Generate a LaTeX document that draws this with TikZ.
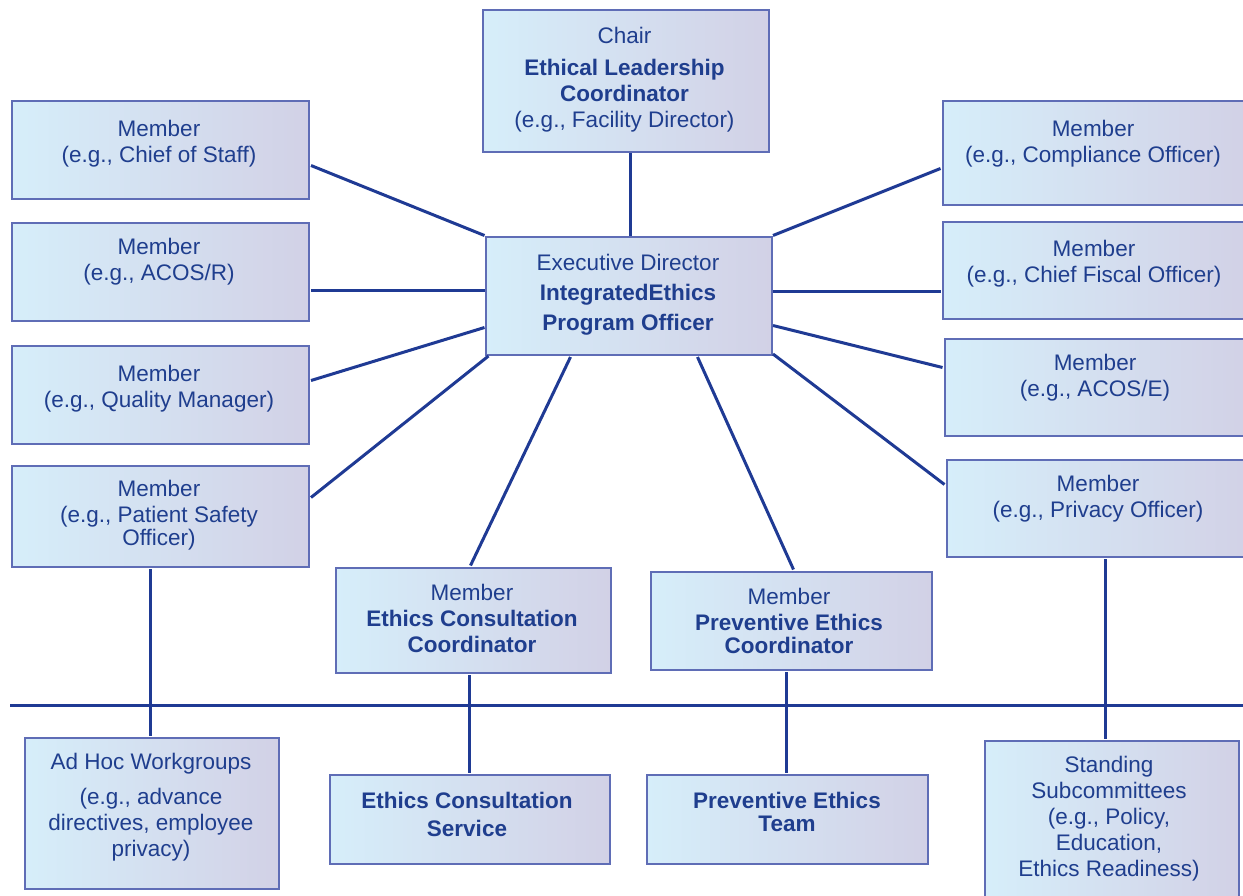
\documentclass[tikz,border=0pt]{standalone}
\usepackage{fontspec}
\setmainfont{Liberation Sans}
\usetikzlibrary{calc}
\definecolor{bleft}{HTML}{D6EEFA}
\definecolor{bright}{HTML}{D2D1E6}
\definecolor{bord}{HTML}{5F6DB6}
\definecolor{txt}{HTML}{1F3E8E}
\definecolor{ln}{HTML}{1F3A94}
\begin{document}
\begin{tikzpicture}[x=1pt,y=-1pt,
 box/.style={draw=bord, line width=2.5pt, left color=bleft, right color=bright, rectangle, inner sep=0pt, anchor=north west},
 lbl/.style={text=txt, align=center, font=\fontsize{22.5}{26}\selectfont, inner sep=0pt, yshift=-3pt},
 conn/.style={draw=ln, line width=3pt}]
\useasboundingbox (0,0) rectangle (1243,895);
\node[box, minimum width=286pt, minimum height=142pt] (chair) at (481.5,8.5) {};
\node[box, minimum width=286pt, minimum height=118pt] (ed) at (484.5,235.5) {};
\node[box, minimum width=297pt, minimum height=98pt] (l1) at (10.5,99.5) {};
\node[box, minimum width=297pt, minimum height=98pt] (l2) at (10.5,221.5) {};
\node[box, minimum width=297pt, minimum height=98pt] (l3) at (10.5,344.5) {};
\node[box, minimum width=297pt, minimum height=101pt] (l4) at (10.5,464.5) {};
\node[box, minimum width=304pt, minimum height=104pt] (r1) at (941.5,99.5) {};
\node[box, minimum width=304pt, minimum height=97pt] (r2) at (941.5,220.5) {};
\node[box, minimum width=304pt, minimum height=97pt] (r3) at (943.5,337.5) {};
\node[box, minimum width=306pt, minimum height=97pt] (r4) at (945.5,458.5) {};
\node[box, minimum width=275pt, minimum height=105pt] (ecc) at (334.5,566.5) {};
\node[box, minimum width=281pt, minimum height=98pt] (pec) at (649.5,570.5) {};
\node[box, minimum width=254pt, minimum height=151pt] (adhoc) at (23.5,736.5) {};
\node[box, minimum width=280pt, minimum height=89pt] (ecs) at (328.5,773.5) {};
\node[box, minimum width=281pt, minimum height=89pt] (pet) at (645.5,773.5) {};
\node[box, minimum width=254pt, minimum height=170pt] (std) at (983.5,739.5) {};

\coordinate (h1) at (10,705);
\coordinate (h2) at (1243,705);
\draw[conn] (h1) -- (h2);

\draw[conn] ($(chair.south west)+(149,0)$) -- ($(ed.north west)+(146,0)$);
\draw[conn] ($(l1.north east)+(1,66)$) -- (ed.north west);
\draw[conn] ($(l2.north east)+(1,69)$) -- ($(ed.north west)+(0,55)$);
\draw[conn] ($(l3.north east)+(1,36)$) -- ($(ed.north west)+(0,92)$);
\draw[conn] ($(l4.north east)+(1,33)$) -- ($(ed.south west)+(4,0)$);
\draw[conn] ($(r1.north west)+(-1,69)$) -- (ed.north east);
\draw[conn] ($(r2.north west)+(-1,71)$) -- ($(ed.north east)+(0,56)$);
\draw[conn] ($(r3.north west)+(-1,30)$) -- ($(ed.north east)+(0,90)$);
\draw[conn] ($(r4.north west)+(-1,26)$) -- ($(ed.south east)+(0,-2)$);
\draw[conn] ($(ecc.north west)+(136,-1)$) -- ($(ed.south west)+(86,1)$);
\draw[conn] ($(pec.north west)+(144,-1)$) -- ($(ed.south west)+(213,1)$);
\draw[conn] ($(l4.south west)+(140,1)$) -- ($(adhoc.north west)+(127,-1)$);
\draw[conn] ($(ecc.south west)+(135,1)$) -- ($(ecs.north west)+(141,-1)$);
\draw[conn] ($(pec.south west)+(137,1)$) -- ($(pet.north west)+(141,-1)$);
\draw[conn] ($(r4.south west)+(160,1)$) -- ($(std.north west)+(122,-1)$);

\node[lbl] (tchair) at (624.5,77) {Chair\\[6pt]\fontsize{22.5}{23.5}\selectfont\textbf{Ethical Leadership}\\\textbf{Coordinator}\\(e.g., Facility Director)};
\node[lbl] (ted) at (628,292) {Executive Director\\[4pt]\textbf{IntegratedEthics}\\[4pt]\textbf{Program Officer}};
\node[lbl] (tl1) at (159,141) {Member\\(e.g., Chief of Staff)};
\node[lbl] (tl2) at (159,259) {Member\\(e.g., ACOS/R)};
\node[lbl] (tl3) at (159,386) {Member\\(e.g., Quality Manager)};
\node[lbl] (tl4) at (159,512) {Member\\(e.g., Patient Safety\\[-3pt]Officer)};
\node[lbl] (tr1) at (1093,141) {Member\\(e.g., Compliance Officer)};
\node[lbl] (tr2) at (1094,261) {Member\\(e.g., Chief Fiscal Officer)};
\node[lbl] (tr3) at (1095,375) {Member\\(e.g., ACOS/E)};
\node[lbl] (tr4) at (1098,496) {Member\\(e.g., Privacy Officer)};
\node[lbl] (tecc) at (472,615) {Member\\\textbf{Ethics Consultation}\\\textbf{Coordinator}};
\node[lbl] (tpec) at (789,618) {Member\\\textbf{Preventive Ethics}\\[-3pt]\textbf{Coordinator}};
\node[lbl] (tadhoc) at (151,804) {Ad Hoc Workgroups\\[9pt](e.g., advance\\directives, employee\\privacy)};
\node[lbl] (tecs) at (467,811) {\textbf{Ethics Consultation}\\[2pt]\textbf{Service}};
\node[lbl] (tpet) at (787,809) {\textbf{Preventive Ethics}\\[-3pt]\textbf{Team}};
\node[lbl] (tstd) at (1109,816) {Standing\\Subcommittees\\(e.g., Policy,\\Education,\\Ethics Readiness)};
\end{tikzpicture}
\end{document}
